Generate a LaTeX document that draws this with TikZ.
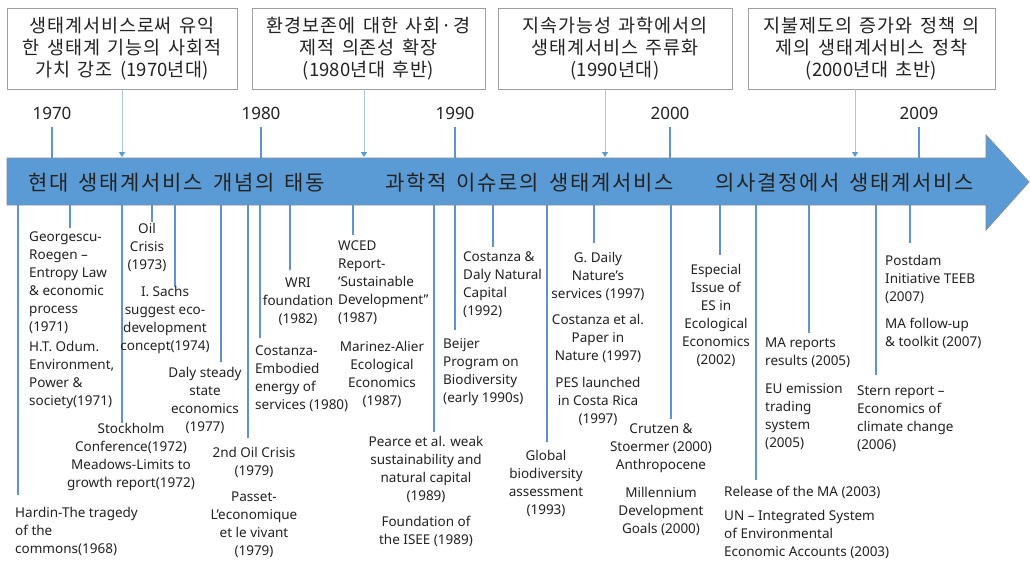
\documentclass[tikz,border=0pt]{standalone}
\usepackage{fontspec}
\setmainfont{Noto Sans}
\newfontfamily\kr{Noto Sans CJK KR}
\newfontfamily\krbox{Noto Sans CJK KR}[LetterSpace=5,WordSpace=1.5]
\newfontfamily\krband{Noto Sans CJK KR}[LetterSpace=8,WordSpace=1.6]
\usetikzlibrary{arrows.meta}
\definecolor{abl}{RGB}{91,155,213}
\definecolor{lnb}{RGB}{96,146,204}
\definecolor{txt}{RGB}{35,35,35}
\definecolor{conn}{RGB}{175,195,220}
\definecolor{edge}{RGB}{125,140,160}
\begin{document}
\begin{tikzpicture}[x=1pt,y=-1pt,
  every node/.style={inner sep=0pt,text=txt},
  ev/.style={font=\fontsize{13.5}{18}\selectfont},
  evl/.style={ev,align=left,anchor=north west},
  evc/.style={ev,align=center,anchor=north},
  stem/.style={draw=lnb,line width=1.7pt},
  tick/.style={draw=lnb,line width=1.5pt},
  topbox/.style={draw=gray!75,line width=0.8pt,minimum height=81pt,
    font=\krbox\fontsize{18.5}{22}\selectfont,align=center},
  conn/.style={draw=conn,line width=1pt,-{Triangle[width=6pt,length=5pt,color=abl]}},
  yearlbl/.style={font=\fontsize{17}{20}\selectfont},
  bandtxt/.style={font=\krband\fontsize{21}{24}\selectfont,anchor=west}
]
\useasboundingbox (0,0) rectangle (1030,560);
\fill[white] (0,0) rectangle (1030,560);

% main arrow
\filldraw[fill=abl,draw=edge,line width=0.8pt]
  (7,158) -- (986,158) -- (986,135) -- (1029,182) -- (986,230) -- (986,205) -- (7,205) -- cycle;

% top boxes
\node[topbox,minimum width=230pt] (b1) at (122,48.5) {생태계서비스로써 유익\\한 생태계 기능의 사회적\\가치 강조 {\kr(1970}년대{\kr)}};
\node[topbox,minimum width=233pt] (b2) at (368.5,48.5) {환경보존에 대한 사회·경\\제적 의존성 확장\\{\kr(1980}년대 후반{\kr)}};
\node[topbox,minimum width=234pt] (b3) at (615,48.5) {지속가능성 과학에서의\\생태계서비스 주류화\\{\kr(1990}년대{\kr)}};
\node[topbox,minimum width=247pt] (b4) at (871.5,48.5) {지불제도의 증가와 정책 의\\제의 생태계서비스 정착\\{\kr(2000}년대 초반{\kr)}};

\coordinate (c1) at (122,157);
\coordinate (c2) at (364,157);
\coordinate (c3) at (605,157);
\coordinate (c4) at (855,157);
\draw[conn] (b1.south -| c1) -- (c1);
\draw[conn] (b2.south -| c2) -- (c2);
\draw[conn] (b3.south -| c3) -- (c3);
\draw[conn] (b4.south -| c4) -- (c4);

% years
\foreach \yr/\x in {1970/52,1980/261,1990/455,2000/670,2009/919}{
  \node[yearlbl] (y\yr) at (\x,113) {\yr};
  \coordinate (t\yr) at (\x,158);
  \draw[tick,shorten <=8pt] (y\yr.south) -- (t\yr);
}

% band labels
\node[bandtxt] (l1) at (28,183) {현대 생태계서비스 개념의 태동};
\node[bandtxt] (l2) at (385,183) {과학적 이슈로의 생태계서비스};
\node[bandtxt] (l3) at (715,183) {의사결정에서 생태계서비스};

% stems
\foreach \x/\y in {18/495,70/228,122/423,152/222,175/287,221/362,248/438,260/338,
  290/270,353/235,434/432,455/330,493/247,547/442,594/243,671/419,720/255,756/480,
  809/333,876/375,910/243}{
  \coordinate (sa\x) at (\x,205);
  \coordinate (sb\x) at (\x,\y);
  \draw[stem] (sa\x) -- (sb\x);
}

% event texts
\node[evl] (hardin) at (15,507) {Hardin-The tragedy\\of the\\commons(1968)};
\node[evl] (georg) at (29,232) {Georgescu-\\Roegen –\\Entropy Law\\\& economic\\process\\(1971)};
\node[evl] (odum) at (29,341) {H.T. Odum.\\Environment,\\Power \&\\society(1971)};
\node[evc] (stock) at (131,423) {Stockholm\\Conference(1972)\\Meadows-Limits to\\growth report(1972)};
\node[evc] (oil) at (147,223) {Oil\\Crisis\\(1973)};
\node[evc] (sachs) at (165,286) {I. Sachs\\suggest eco-\\development\\concept(1974)};
\node[evc] (daly) at (205,367) {Daly steady\\state\\economics\\(1977)};
\node[evc] (oil2) at (254,447) {2nd Oil Crisis\\(1979)};
\node[evc] (passet) at (254,492) {Passet-\\L’economique\\et le vivant\\(1979)};
\node[evl] (costemb) at (255,346) {Costanza-\\Embodied\\energy of\\services (1980)};
\node[evc] (wri) at (298,278) {WRI\\foundation\\(1982)};
\node[evl] (wced) at (338,241) {WCED\\Report-\\‘Sustainable\\Development”\\(1987)};
\node[evc] (marinez) at (382,341) {Marinez-Alier\\Ecological\\Economics\\(1987)};
\node[evc] (pearce) at (426,436) {Pearce et al. weak\\sustainability and\\natural capital\\(1989)};
\node[evc] (isee) at (426,516) {Foundation of\\the ISEE (1989)};
\node[evl] (beijer) at (443,338) {Beijer\\Program on\\Biodiversity\\(early 1990s)};
\node[evl] (cdaly) at (463,252) {Costanza \&\\Daly Natural\\Capital\\(1992)};
\node[evc] (global) at (546,450) {Global\\biodiversity\\assessment\\(1993)};
\node[evc] (gdaily) at (598,252) {G. Daily\\Nature’s\\services (1997)};
\node[evc] (costnat) at (598,314) {Costanza et al.\\Paper in\\Nature (1997)};
\node[evc] (pes) at (598,377) {PES launched\\in Costa Rica\\(1997)};
\node[evc] (crutzen) at (661,424) {Crutzen \&\\Stoermer (2000)\\Anthropocene};
\node[evc] (mdg) at (661,487) {Millennium\\Development\\Goals (2000)};
\node[evc] (especial) at (716,264) {Especial\\Issue of\\ES in\\Ecological\\Economics\\(2002)};
\node[evl] (release) at (724,486) {Release of the MA (2003)};
\node[evl] (un) at (724,510) {UN – Integrated System\\of Environmental\\Economic Accounts (2003)};
\node[evl] (marep) at (765,338) {MA reports\\results (2005)};
\node[evl] (eu) at (765,383) {EU emission\\trading\\system\\(2005)};
\node[evl] (stern) at (857,386) {Stern report –\\Economics of\\climate change\\(2006)};
\node[evl] (postdam) at (885,255) {Postdam\\Initiative TEEB\\(2007)};
\node[evl] (mafollow) at (885,318) {MA follow-up\\\& toolkit (2007)};
\end{tikzpicture}
\end{document}
